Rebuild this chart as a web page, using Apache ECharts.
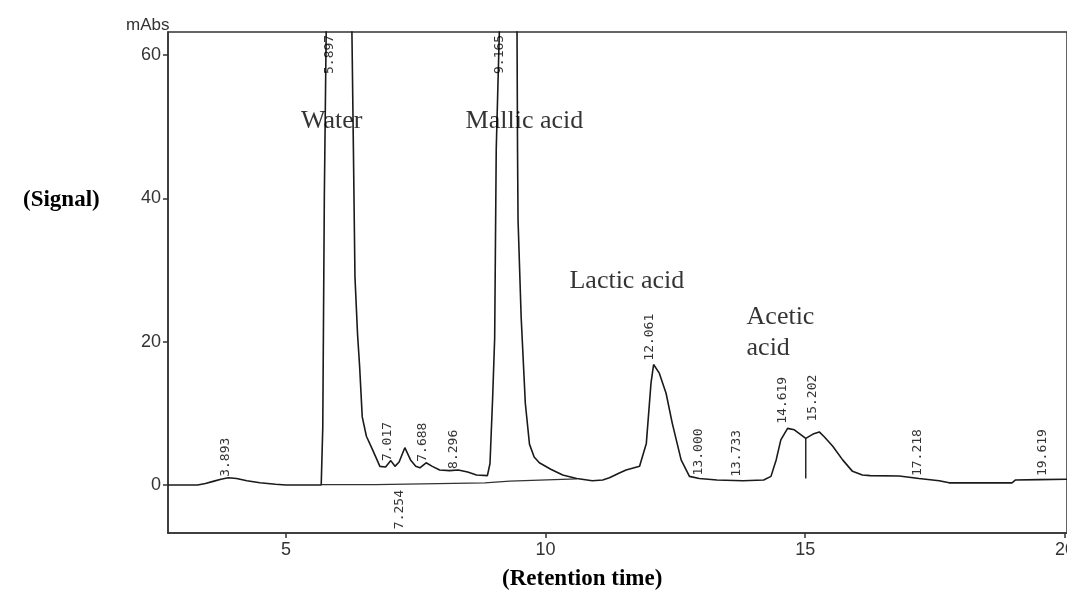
<!DOCTYPE html>
<html><head><meta charset="utf-8">
<script src="https://cdn.jsdelivr.net/npm/echarts@6/dist/echarts.min.js"></script>
<style>html,body{margin:0;padding:0;background:#fff}#c{width:1067px;height:605px}</style>
</head><body><div id="c"></div>
<script>
// Chromatogram trace (retention time in min, signal in mAbs)
const traceTime = [2.73,3.30,3.45,3.60,3.75,3.89,4.05,4.25,4.50,4.80,5.00,5.68,5.71,5.74,5.78,5.90,6.15,6.27,6.30,6.33,6.38,6.42,6.47,6.55,6.67,6.81,6.92,7.02,7.10,7.18,7.29,7.40,7.50,7.58,7.70,7.82,7.96,8.15,8.32,8.50,8.67,8.88,8.93,8.98,9.02,9.05,9.12,9.17,9.30,9.45,9.46,9.47,9.53,9.61,9.69,9.78,9.88,10.10,10.33,10.60,10.90,11.10,11.23,11.40,11.55,11.81,11.94,12.03,12.08,12.19,12.32,12.44,12.61,12.77,12.96,13.30,13.80,14.20,14.34,14.44,14.53,14.66,14.79,15.01,15.15,15.27,15.37,15.53,15.72,15.91,16.10,16.25,16.81,17.19,17.58,17.77,18.98,19.05,19.50,20.04];
const traceSignal = [0.0,0.0,0.2,0.5,0.8,1.0,0.9,0.6,0.3,0.1,0.0,0.0,8,40,66,160,90,64,46.8,29,21,16.5,9.5,6.8,4.9,2.6,2.5,3.4,2.6,3.2,5.2,3.5,2.6,2.4,3.1,2.6,2.1,2.0,2.1,1.8,1.4,1.3,3,12,20.5,46.8,66,110,90,64,46.8,37,23.4,11.4,5.7,3.9,3.1,2.2,1.4,0.9,0.6,0.7,1.0,1.6,2.1,2.6,5.8,14.2,16.8,15.6,12.8,8.6,3.5,1.2,0.9,0.7,0.6,0.7,1.2,3.5,6.3,7.9,7.7,6.5,7.1,7.4,6.7,5.4,3.5,1.9,1.4,1.3,1.25,0.9,0.6,0.3,0.3,0.7,0.75,0.8];

// Integration baseline segments
const baseTime = [5.69,6.72,6.72,8.83,8.83,9.31,9.31,10.60];
const baseSignal = [0.05,0.05,0.3,0.3,0.55,0.55,0.8,0.85];
const dropTime = [15.01,15.01];
const dropSignal = [0.9,6.5];

// Peak retention-time labels and the signal level where each label starts
const peakTimes  = [3.893,5.897,7.017,7.254,7.688,8.296,9.165,12.061,13.000,13.733,14.619,15.202,17.218,19.619];
const peakLabels = ['3.893','5.897','7.017','7.254','7.688','8.296','9.165','12.061','13.000','13.733','14.619','15.202','17.218','19.619'];
const peakLabelY = [1.0,57.2,3.2,-6.3,3.1,2.1,57.2,17.2,1.2,1.0,8.4,8.7,1.1,1.1];

// Compound annotations
const compoundNames = ['Water','Mallic acid','Lactic acid','Acetic\nacid'];
const compoundTime  = [5.29,8.46,10.46,13.87];
const compoundSignal = [50.8,50.8,28.5,21.2];

const xTickValues = [5,10,15,20];
const yTickValues = [0,20,40,60];

const zip = (a,b) => a.map((v,i)=>[v,b[i]]);

const chart = echarts.init(document.getElementById('c'));
const axisColor = '#333';
chart.setOption({
  animation: false,
  backgroundColor: '#fff',
  title: [
    {text:'mAbs', left:121, top:12, textStyle:{fontFamily:'Liberation Sans', fontSize:17, fontWeight:'normal', color:'#333'}},
    {text:'(Signal)', left:18, top:184, textStyle:{fontFamily:'Liberation Serif', fontSize:23, fontWeight:'bold', color:'#000'}},
    {text:'(Retention time)', left:497, top:563, textStyle:{fontFamily:'Liberation Serif', fontSize:23, fontWeight:'bold', color:'#000'}}
  ],
  grid: {left:168, top:32, right:0, bottom:72, outerBoundsMode:'none', containLabel:false,
         show:true, borderColor:axisColor, borderWidth:1.5, backgroundColor:'transparent'},
  xAxis: {
    type:'value', min:2.73, max:20.04,
    axisLine:{onZero:false, lineStyle:{color:axisColor, width:1.5}},
    axisTick:{show:true, length:5, customValues:xTickValues, lineStyle:{color:axisColor, width:1.5}},
    axisLabel:{customValues:xTickValues, margin:8, fontFamily:'Liberation Sans', fontSize:18, color:'#333', hideOverlap:false},
    splitLine:{show:false}
  },
  yAxis: {
    type:'value', min:-6.7, max:63.2,
    axisLine:{show:true, lineStyle:{color:axisColor, width:1.5}},
    axisTick:{show:true, length:5, customValues:yTickValues, lineStyle:{color:axisColor, width:1.5}},
    axisLabel:{customValues:yTickValues, margin:7, fontFamily:'Liberation Sans', fontSize:18, color:'#333'},
    splitLine:{show:false}
  },
  series: [
    {type:'line', data:zip(traceTime, traceSignal), showSymbol:false, symbol:'none', clip:true,
     lineStyle:{color:'#1a1a1a', width:1.6}, z:3},
    {type:'line', data:zip(baseTime, baseSignal), showSymbol:false, symbol:'none', clip:true,
     lineStyle:{color:'#333', width:1.2}, z:2},
    {type:'line', data:zip(dropTime, dropSignal), showSymbol:false, symbol:'none', clip:true,
     lineStyle:{color:'#1a1a1a', width:1.4}, z:2},
    {type:'scatter', data:zip(peakTimes, peakLabelY).map((p,i)=>({value:p, name:peakLabels[i]})),
     symbolSize:0, z:4,
     label:{show:true, position:'top', distance:1, rotate:90, align:'left', verticalAlign:'middle', offset:[0,-3],
       formatter:p=>p.name, fontFamily:'DejaVu Sans Mono', fontSize:13, color:'#000'}},
    {type:'scatter', data:zip(compoundTime, compoundSignal).map((p,i)=>({value:p, name:compoundNames[i]})),
     symbolSize:0, z:4,
     label:{show:true, position:'right', distance:0, align:'left', verticalAlign:'middle',
       formatter:p=>p.name, fontFamily:'Liberation Serif', fontSize:26, lineHeight:31, color:'#000', textBorderWidth:0}}
  ]
});
</script></body></html>
